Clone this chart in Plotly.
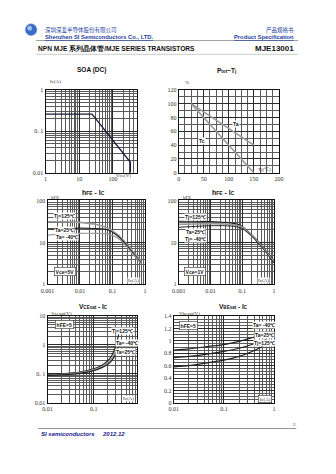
import math
import plotly.graph_objects as go

# ---------------- data ----------------
soa_vce = [1, 24, 330, 330]
soa_ic = [0.26, 0.26, 0.018, 0.01]

ptj_tj = [25, 150]
ptj_tc = [100, 0]
ptj_ta = [100, 40]

hfe_l_ic = [0.001, 0.003, 0.01, 0.03, 0.07, 0.15, 0.25, 0.4, 0.6, 0.8]
hfe_l_125 = [31, 31, 30, 27, 22, 15, 10, 6.5, 4.5, 3.3]
hfe_l_25 = [21, 21.5, 22, 21.5, 20, 14, 9.3, 6.0, 4.1, 3.1]
hfe_l_m40 = [15, 16, 16.5, 16.5, 16, 12.5, 8.6, 5.6, 3.9, 3.0]

hfe_r_ic = [0.001, 0.003, 0.01, 0.03, 0.06, 0.1, 0.2, 0.3, 0.5, 0.7, 1.0]
hfe_r_125 = [32, 32, 31.5, 30, 28, 24, 15, 11, 7, 5, 3.6]
hfe_r_25 = [27, 27.5, 28, 27.5, 26, 23, 14.5, 10.5, 6.7, 4.8, 3.4]
hfe_r_m40 = [23, 24, 25, 25, 24, 21.5, 14, 10, 6.4, 4.6, 3.2]

vce_ic = [0.01, 0.02, 0.05, 0.1, 0.15, 0.2, 0.25, 0.3, 0.35]
vce_125 = [0.095, 0.1, 0.115, 0.15, 0.2, 0.28, 0.45, 0.9, 2.5]
vce_25 = [0.09, 0.095, 0.11, 0.14, 0.18, 0.24, 0.36, 0.65, 1.5]
vce_m40 = [0.088, 0.092, 0.105, 0.13, 0.165, 0.21, 0.3, 0.5, 1.0]

vbe_ic = [0.01, 0.02, 0.05, 0.1, 0.2, 0.3, 0.5, 0.7]
vbe_m40 = [0.85, 0.87, 0.91, 0.94, 0.99, 1.03, 1.09, 1.14]
vbe_25 = [0.73, 0.75, 0.79, 0.83, 0.88, 0.92, 0.98, 1.03]
vbe_125 = [0.58, 0.60, 0.65, 0.69, 0.75, 0.80, 0.88, 0.95]

soa_xticks = [1, 10, 100]
soa_xtext = ["1", "10", "100"]
soa_xextra = 1000
soa_yticks = [0.01, 0.1, 1]
soa_ytext = ["0.01", "0. 1", "1"]
ptj_xticks = [0, 50, 100, 150, 200]
ptj_yticks = [0, 20, 40, 60, 80, 100, 120]
hfe_xticks = [0.001, 0.01, 0.1, 1]
hfe_xtext = ["0.001", "0.01", "0.1", "1"]
hfe_yticks = [1, 10, 100]
hfe_ytext = ["1", "10", "100"]
vce_xticks = [0.01, 0.1]
vce_xtext = ["0.01", "0.1"]
vce_yticks = [0.01, 0.1, 1, 10]
vce_ytext = ["0.01", "0. 1", "1", "10"]
vbe_xticks = [0.01, 0.1, 1]
vbe_xtext = ["0.01", "0.1", "1"]
vbe_yticks = [0, 0.2, 0.4, 0.6, 0.8, 1.0, 1.2, 1.4]
vbe_ytext = ["0", "0.2", "0.4", "0.6", "0.8", "1", "1.2", "1.4"]

# ---------------- layout helpers ----------------
W, H = 336, 474
def fx(x):
    return x / W
def fy(y):
    return 1 - y / H

TICKFONT = dict(family="Liberation Serif", size=6, color="#333")
GRID = "#2a2a2a"
MINOR = "#5a5a5a"
DARK = "#222222"
GRAY = "#9a9a9a"

fig = go.Figure()

def axis(x0, x1, y0, y1, n, xtype, ytype, xr, yr, xt, xtt, yt, ytt, xminor, yminor):
    xa = dict(domain=[fx(x0), fx(x1)], type=xtype, range=xr, anchor="y" + ("" if n == 1 else str(n)),
              tickmode="array", tickvals=xt, ticktext=xtt, tickfont=TICKFONT,
              showline=True, mirror=True, linecolor="#111", linewidth=1,
              showgrid=True, gridcolor=GRID, gridwidth=0.8, zeroline=False, ticks="", ticklen=0,
              minor=dict(showgrid=True, gridcolor=MINOR, gridwidth=0.6, dtick=xminor, ticks=""))
    ya = dict(domain=[fy(y1), fy(y0)], type=ytype, range=yr, anchor="x" + ("" if n == 1 else str(n)),
              tickmode="array", tickvals=yt, ticktext=ytt, tickfont=TICKFONT,
              showline=True, mirror=True, linecolor="#111", linewidth=1,
              showgrid=True, gridcolor=GRID, gridwidth=0.8, zeroline=False, ticks="", ticklen=0,
              minor=dict(showgrid=True, gridcolor=MINOR, gridwidth=0.6, dtick=yminor, ticks=""))
    k = "" if n == 1 else str(n)
    fig.update_layout(**{"xaxis" + k: xa, "yaxis" + k: ya})

axis(40, 135, 88, 172, 1, "log", "log", [0, 2.72], [-2, 0], soa_xticks, soa_xtext, soa_yticks, soa_ytext, "D1", "D1")
axis(178, 282, 88, 172, 2, "linear", "linear", [0, 200], [0, 120], ptj_xticks, [str(v) for v in ptj_xticks], ptj_yticks, [str(v) for v in ptj_yticks], 12.5, 10)
axis(42, 143, 200, 285, 3, "log", "log", [-3, 0], [0, 2], hfe_xticks, hfe_xtext, hfe_yticks, hfe_ytext, "D1", "D1")
axis(178, 277, 200, 285, 4, "log", "log", [-3, 0], [0, 2], hfe_xticks, hfe_xtext, hfe_yticks, hfe_ytext, "D1", "D1")
axis(42, 135, 317, 405, 5, "log", "log", [-2, -0.06], [-2, 1], vce_xticks, vce_xtext, vce_yticks, vce_ytext, "D1", "D1")
axis(173, 277, 317, 405, 6, "log", "linear", [-2, 0], [0, 1.4], vbe_xticks, vbe_xtext, vbe_yticks, vbe_ytext, "D1", 0.05)

def line(x, y, n, color, width=1.3):
    k = "" if n == 1 else str(n)
    fig.add_trace(go.Scatter(x=x, y=y, mode="lines", line=dict(color=color, width=width, shape="spline", smoothing=0.6),
                             xaxis="x" + k, yaxis="y" + k, showlegend=False, hoverinfo="skip"))

fig.add_trace(go.Scatter(x=soa_vce, y=soa_ic, mode="lines", line=dict(color="#1a1a3a", width=1.3),
                         xaxis="x", yaxis="y", showlegend=False))
fig.add_trace(go.Scatter(x=ptj_tj, y=ptj_tc, mode="lines", line=dict(color=GRAY, width=1.6),
                         xaxis="x2", yaxis="y2", showlegend=False))
fig.add_trace(go.Scatter(x=ptj_tj, y=ptj_ta, mode="lines", line=dict(color=GRAY, width=1.6),
                         xaxis="x2", yaxis="y2", showlegend=False))
line(hfe_l_ic, hfe_l_125, 3, GRAY, 1.6)
line(hfe_l_ic, hfe_l_25, 3, DARK, 1.2)
line(hfe_l_ic, hfe_l_m40, 3, GRAY, 1.2)
line(hfe_r_ic, hfe_r_125, 4, DARK, 1.2)
line(hfe_r_ic, hfe_r_25, 4, GRAY, 1.6)
line(hfe_r_ic, hfe_r_m40, 4, DARK, 1.0)
line(vce_ic, vce_125, 5, DARK, 1.2)
line(vce_ic, vce_25, 5, GRAY, 1.4)
line(vce_ic, vce_m40, 5, DARK, 1.2)
line(vbe_ic, vbe_m40, 6, DARK, 1.2)
line(vbe_ic, vbe_25, 6, DARK, 1.2)
line(vbe_ic, vbe_125, 6, DARK, 1.2)

def sub(s):
    return '<span style="font-size:70%">' + s + '</span>'

ann = []
def txt(x, y, s, size=6, color="#111", family="Liberation Sans", xanchor="center", bold=False, bg=None, border=None, italic=False):
    if bold:
        s = "<b>" + s + "</b>"
    if italic:
        s = "<i>" + s + "</i>"
    d = dict(x=fx(x), y=fy(y), xref="paper", yref="paper", text=s, showarrow=False,
             font=dict(size=size, color=color, family=family), xanchor=xanchor, yanchor="middle")
    if bg:
        d["bgcolor"] = bg
        d["borderpad"] = 0
    if border:
        d["bordercolor"] = border
        d["borderwidth"] = 0.6
        d["borderpad"] = 1
    ann.append(d)

BLUE = "#1f3f9f"
# header
txt(37, 27, "深圳深爱半导体股份有限公司", 5.5, BLUE, "Noto Sans CJK SC", "left")
txt(37, 34, "<u>Shenzhen SI Semiconductors Co., LTD.</u>", 5.8, BLUE, "Liberation Sans", "left", bold=True)
txt(300, 27, "产品规格书", 5.5, BLUE, "Noto Sans CJK SC", "right")
txt(300, 34, "<u>Product Specification</u>", 5.8, BLUE, "Liberation Sans", "right", bold=True)
txt(30, 46.5, "NPN MJE 系列晶体管/MJE SERIES TRANSISTORS", 6.6, "#111", "Liberation Sans", "left", bold=True)
txt(300, 46.5, "MJE13001", 8, "#111", "Liberation Sans", "right", bold=True)

# titles
txt(88, 68, "SOA (DC)", 6.5, bold=True)
txt(228, 68, "P" + sub("tot") + "−T" + sub("j"), 6.5, bold=True)
txt(90, 192, "h" + sub("FE") + " - I" + sub("C"), 7, bold=True)
txt(225, 192, "h" + sub("FE") + " - I" + sub("C"), 7, bold=True)
txt(90, 307, "V" + sub("CEsat") + " - I" + sub("C"), 6.5, bold=True)
txt(235, 307, "V" + sub("BEsat") + " - I" + sub("C"), 6.5, bold=True)

# axis captions
SER = "Liberation Serif"
S = 5
txt(43, 80, "Ic(A)", S, "#333", SER, "left")
txt(131, 175, "Vce(V)", S, "#333", SER, "right")
ann.append(dict(x=math.log10(soa_xextra), y=fy(176.5), xref="x", yref="paper", text=str(soa_xextra), showarrow=False,
                font=TICKFONT, yanchor="middle", xanchor="center"))
txt(183, 81, "%", S, "#333", SER, "left")
txt(267, 169, "Tj(℃)", S, "#333", SER, "center")
txt(44, 197, "hFE", S, "#333", SER, "left")
txt(180, 197, "hFE", S, "#333", SER, "left")
txt(138, 281, "Ic(A)", S, "#333", SER, "right", bg="white")
txt(273, 281, "Ic(A)", S, "#333", SER, "right", bg="white")
txt(44, 314, "Vcesat(V)", S, "#333", SER, "left")
txt(133, 401, "Ic(A)", S, "#333", SER, "right", bg="white")
txt(176, 314, "Vbesat(V)", S, "#333", SER, "left")
txt(275, 401, "Ic(A)", S, "#333", SER, "right", bg="white", border="#333")

# curve labels
LB = "Liberation Sans"
txt(202, 140, "Tc", S, "#111", LB, bg="white", bold=True)
txt(237, 123, "Ta", S, "#111", LB, bg="white", bold=True)

txt(60, 216, "Tj=125℃", S, "#111", LB, bg="white", bold=True)
txt(60, 230, "Ta=25℃", S, "#111", LB, bg="white", bold=True)
txt(62, 237, "Ta= -40℃", S, "#111", LB, bg="white", bold=True)
txt(60, 272, "Vce=5V", S, "#111", LB, bg="white", bold=True, border="#333")

txt(195, 217, "Tj=125℃", S, "#111", LB, bg="white", bold=True)
txt(195, 232, "Ta=25℃", S, "#111", LB, bg="white", bold=True)
txt(195, 239, "Tj= -40℃", S, "#111", LB, bg="white", bold=True)
txt(195, 272, "Vce=1V", S, "#111", LB, bg="white", bold=True, border="#333")

txt(60, 326, "hFE=5", S, "#111", LB, bg="white", bold=True, border="#333")
txt(120, 332, "Tj=125℃", S, "#111", LB, bg="white", bold=True)
txt(124, 344, "Ta= -40℃", S, "#111", LB, bg="white", bold=True)
txt(123, 353, "Ta=25℃", S, "#111", LB, bg="white", bold=True)

txt(188, 327, "hFE=5", S, "#111", LB, bg="white", bold=True, border="#333")
txt(267, 326, "Ta= -40℃", S, "#111", LB, bg="white", bold=True)
txt(267, 336, "Ta=25℃", S, "#111", LB, bg="white", bold=True)
txt(267, 344, "Tj=125℃", S, "#111", LB, bg="white", bold=True)

# footer
txt(33, 437, "SI semiconductors", 6, "#1a1a8a", "Liberation Sans", "left", bold=True, italic=True)
txt(96, 437, "2012.12", 6, "#1a1a8a", "Liberation Sans", "left", bold=True, italic=True)
txt(298, 427, "2", 5, "#333", SER, "center")

shapes = [
    dict(type="line", xref="paper", yref="paper", x0=fx(30), x1=fx(302), y0=fy(38), y1=fy(38), line=dict(color="#888", width=0.8)),
    dict(type="line", xref="paper", yref="paper", x0=fx(30), x1=fx(302), y0=fy(52), y1=fy(52), line=dict(color="#aaa", width=0.6)),
    dict(type="line", xref="paper", yref="paper", x0=fx(32), x1=fx(300), y0=fy(431), y1=fy(431), line=dict(color="#777", width=0.8)),
    dict(type="circle", xref="paper", yref="paper", x0=fx(19), x1=fx(31), y0=fy(33), y1=fy(21), fillcolor="#3b6cc4", line=dict(color="#6a8fd8", width=0.5)),
    dict(type="circle", xref="paper", yref="paper", x0=fx(21), x1=fx(26), y0=fy(28), y1=fy(23), fillcolor="#9fc0f0", line=dict(width=0)),
]

fig.update_layout(width=W, height=H, margin=dict(l=0, r=0, t=0, b=0),
                  paper_bgcolor="white", plot_bgcolor="white", annotations=ann, shapes=shapes,
                  showlegend=False)
fig.write_html("out.html")
